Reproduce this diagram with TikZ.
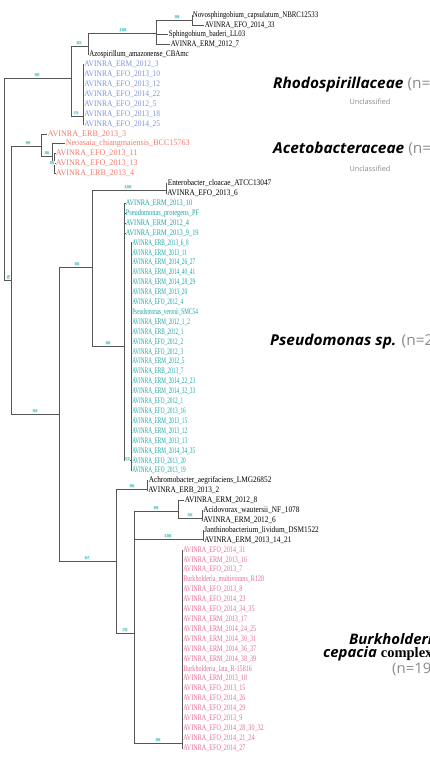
\documentclass[tikz,border=0pt]{standalone}
\usepackage{fontspec}
\setmainfont{Liberation Serif}
\newfontfamily\labfont[FakeStretch=1.03]{Open Sans}
\newfontfamily\uncfont{Open Sans}
\newfontfamily\fblack[FakeStretch=0.81]{Liberation Serif}
\newfontfamily\fblackw[FakeStretch=0.86]{Liberation Serif}
\newfontfamily\fblue[FakeStretch=0.88]{Liberation Serif}
\newfontfamily\fsalmon[FakeStretch=0.95]{Liberation Serif}
\newfontfamily\fteal[FakeStretch=0.62]{Liberation Serif}
\newfontfamily\ftealw[FakeStretch=0.75]{Liberation Serif}
\newfontfamily\fpink[FakeStretch=0.72]{Liberation Serif}
\definecolor{treeline}{HTML}{555555}
\definecolor{rhodo}{HTML}{7C95D8}
\definecolor{aceto}{HTML}{F07A6A}
\definecolor{pseudo}{HTML}{1FA3A3}
\definecolor{burk}{HTML}{E36D96}
\definecolor{boot}{HTML}{2BB5B0}
\definecolor{ncol}{HTML}{8A8A8A}
\begin{document}
\begin{tikzpicture}[x=1pt,y=-1pt,
  leaf/.style={anchor=west,inner sep=0.6pt,font=\fblack\fontsize{8.5}{9}\selectfont},
  wleaf/.style={leaf,font=\fblackw\fontsize{8.5}{9}\selectfont},
  rleaf/.style={leaf,text=rhodo,font=\fblue\fontsize{8.5}{9}\selectfont},
  aleaf/.style={leaf,text=aceto,font=\fsalmon\fontsize{8.5}{9}\selectfont},
  pleaf/.style={leaf,text=pseudo,font=\fteal\fontsize{8.5}{9}\selectfont},
  pwleaf/.style={leaf,text=pseudo,font=\ftealw\fontsize{8.5}{9}\selectfont},
  bleaf/.style={leaf,text=burk,font=\fpink\fontsize{8.5}{9}\selectfont},
  br/.style={draw=treeline,line width=0.7pt},
  bs/.style={font=\sffamily\bfseries\fontsize{4}{4}\selectfont,text=boot,fill=boot!12,inner sep=0.4pt,anchor=south,yshift=0.6pt},
  big/.style={anchor=west,inner sep=0pt,font=\labfont\bfseries\itshape\fontsize{15}{16}\selectfont},
  bigb/.style={anchor=west,inner sep=0pt,font=\labfont\bfseries\itshape\fontsize{14.5}{15}\selectfont},
  uncl/.style={inner sep=0pt,font=\uncfont\fontsize{7.3}{8}\selectfont,text=ncol}]
\useasboundingbox (0,0) rectangle (429,758);
\clip (0,0) rectangle (429,758);
% ---------------- internal nodes
\coordinate (root) at (4,78);
\coordinate (nRh) at (71,78);
\coordinate (nA) at (88,46);
\coordinate (n100) at (156,33);
\coordinate (n99) at (192,20);
\coordinate (nB) at (83,116);
\coordinate (n11) at (11,280);
\coordinate (nAc) at (41,146);
\coordinate (nAc2) at (52,156);
\coordinate (nAc3) at (54.5,164);
\coordinate (nP) at (59,414);
\coordinate (nPs) at (92,267);
\coordinate (nEnt) at (166,190);
\coordinate (nPse) at (124.5,346);
\coordinate (nPse2) at (131,460);
\coordinate (nBeta) at (116,561);
\coordinate (nAch) at (147,489);
\coordinate (n78) at (134,633);
\coordinate (n99b) at (178,511);
\coordinate (nAci) at (202,518);
\coordinate (nJan) at (203,539);
\coordinate (nBur) at (182,743);
% ---------------- leaves
\node[leaf] (l1) at (192,{15+9.905*0}) {Novosphingobium\_capsulatum\_NBRC12533};
\node[leaf] (l2) at (204,{15+9.905*1}) {AVINRA\_EFO\_2014\_33};
\node[leaf] (l3) at (168,{15+9.905*2}) {Sphingobium\_baderi\_LL03};
\node[leaf] (l4) at (170,{15+9.905*3}) {AVINRA\_ERM\_2012\_7};
\node[leaf] (l5) at (88.5,{15+9.905*4}) {Azospirillum\_amazonense\_CBAmc};
\foreach \i/\t in {6/AVINRA\_ERM\_2012\_3,7/AVINRA\_EFO\_2013\_10,8/AVINRA\_EFO\_2013\_12,
  9/AVINRA\_EFO\_2014\_22,10/AVINRA\_EFO\_2012\_5,11/AVINRA\_EFO\_2013\_18,12/AVINRA\_EFO\_2014\_25}
  \node[rleaf] (l\i) at (83.5,{15+9.905*(\i-1)}) {\t};
\node[aleaf] (l13) at (47,{15+9.905*12}) {AVINRA\_ERB\_2013\_3};
\node[aleaf] (l14) at (65,{15+9.905*13}) {Neoasaia\_chiangmaiensis\_BCC15763};
\foreach \i/\t in {15/AVINRA\_EFO\_2013\_11,16/AVINRA\_EFO\_2013\_13,17/AVINRA\_ERB\_2013\_4}
  \node[aleaf] (l\i) at (55,{15+9.905*(\i-1)}) {\t};
\node[wleaf] (l18) at (167,{15+9.905*17}) {Enterobacter\_cloacae\_ATCC13047};
\node[wleaf] (l19) at (166.5,{15+9.905*18}) {AVINRA\_EFO\_2013\_6};
\foreach \i/\t in {20/AVINRA\_ERM\_2013\_10,21/Pseudomonas\_protegens\_PF,22/AVINRA\_ERM\_2012\_4,23/AVINRA\_ERM\_2013\_9\_19}
  \node[pwleaf] (l\i) at (125,{15+9.905*(\i-1)}) {\t};
\foreach \i/\t in {24/AVINRA\_ERB\_2013\_6\_8,25/AVINRA\_ERM\_2013\_11,26/AVINRA\_ERM\_2014\_26\_27,
  27/AVINRA\_ERM\_2014\_40\_41,28/AVINRA\_ERM\_2014\_28\_29,29/AVINRA\_ERM\_2013\_20,30/AVINRA\_EFO\_2012\_4,
  31/Pseudomonas\_veronii\_SMC54,32/AVINRA\_ERM\_2012\_1\_2,33/AVINRA\_ERB\_2012\_1,34/AVINRA\_EFO\_2012\_2,
  35/AVINRA\_EFO\_2012\_3,36/AVINRA\_ERM\_2012\_5,37/AVINRA\_ERB\_2013\_7,38/AVINRA\_ERM\_2014\_22\_23,
  39/AVINRA\_ERM\_2014\_32\_33,40/AVINRA\_EFO\_2012\_1,41/AVINRA\_EFO\_2013\_16,42/AVINRA\_ERM\_2013\_15,
  43/AVINRA\_ERM\_2013\_12,44/AVINRA\_ERM\_2013\_13,45/AVINRA\_ERM\_2014\_34\_35,46/AVINRA\_EFO\_2013\_20,
  47/AVINRA\_EFO\_2013\_19}
  \node[pleaf] (l\i) at (131.5,{15+9.905*(\i-1)}) {\t};
\node[wleaf] (l48) at (148,{15+9.905*47}) {Achromobacter\_aegrifaciens\_LMG26852};
\node[wleaf] (l49) at (147.5,{15+9.905*48}) {AVINRA\_ERB\_2013\_2};
\node[wleaf] (l50) at (184,{15+9.905*49}) {AVINRA\_ERM\_2012\_8};
\node[wleaf] (l51) at (202.5,{15+9.905*50}) {Acidovorax\_wautersii\_NF\_1078};
\node[wleaf] (l52) at (202.5,{15+9.905*51}) {AVINRA\_ERM\_2012\_6};
\node[wleaf] (l53) at (203.5,{15+9.905*52}) {Janthinobacterium\_lividum\_DSM1522};
\node[wleaf] (l54) at (203.5,{15+9.905*53}) {AVINRA\_ERM\_2013\_14\_21};
\foreach \i/\t in {55/AVINRA\_EFO\_2014\_31,56/AVINRA\_ERM\_2013\_16,57/AVINRA\_EFO\_2013\_7,
  58/Burkholderia\_multivorans\_R128,59/AVINRA\_EFO\_2013\_8,60/AVINRA\_EFO\_2014\_23,
  61/AVINRA\_EFO\_2014\_34\_35,62/AVINRA\_ERM\_2013\_17,63/AVINRA\_ERM\_2014\_24\_25,
  64/AVINRA\_ERM\_2014\_30\_31,65/AVINRA\_ERM\_2014\_36\_37,66/AVINRA\_ERM\_2014\_38\_39,
  67/Burkholderia\_lata\_R-15816,68/AVINRA\_ERM\_2013\_18,69/AVINRA\_EFO\_2013\_15,
  70/AVINRA\_EFO\_2014\_26,71/AVINRA\_EFO\_2014\_29,72/AVINRA\_EFO\_2013\_9,
  73/AVINRA\_EFO\_2014\_28\_30\_32,74/AVINRA\_EFO\_2014\_21\_24,75/AVINRA\_EFO\_2014\_27}
  \node[bleaf] (l\i) at (182.5,{15+9.905*(\i-1)}) {\t};
% ---------------- branches
\draw[br] (root) |- (nRh);
\draw[br] (root) |- (n11);
\draw[br] (nRh) |- (nA);
\draw[br] (nRh) |- (nB);
\draw[br] (nA) |- (n100);
\draw[br] (nA) |- (l5.west);
\draw[br] (n100) |- (n99);
\draw[br] (n100) |- (l3.west);
\draw[br] (n100) |- (l4.west);
\draw[br] (n99) |- (l1.west);
\draw[br] (n99) |- (l2.west);
\foreach \i in {6,...,12} \draw[br] (nB) |- (l\i.west);
\draw[br] (n11) |- (nAc);
\draw[br] (n11) |- (nP);
\draw[br] (nAc) |- (l13.west);
\draw[br] (nAc) |- (nAc2);
\draw[br] (nAc2) |- (l14.west);
\draw[br] (nAc2) |- (nAc3);
\foreach \i in {15,16,17} \draw[br] (nAc3) |- (l\i.west);
\draw[br] (nP) |- (nPs);
\draw[br] (nP) |- (nBeta);
\draw[br] (nPs) |- (nEnt);
\draw[br] (nPs) |- (nPse);
\draw[br] (nEnt) |- (l18.west);
\draw[br] (nEnt) |- (l19.west);
\foreach \i in {20,...,23} \draw[br] (nPse) |- (l\i.west);
\draw[br] (nPse) |- (nPse2);
\foreach \i in {24,...,47} \draw[br] (nPse2) |- (l\i.west);
\draw[br] (nBeta) |- (nAch);
\draw[br] (nBeta) |- (n78);
\draw[br] (nAch) |- (l48.west);
\draw[br] (nAch) |- (l49.west);
\draw[br] (n78) |- (n99b);
\draw[br] (n78) |- (nJan);
\draw[br] (n78) |- (nBur);
\draw[br] (n99b) |- (l50.west);
\draw[br] (n99b) |- (nAci);
\draw[br] (nAci) |- (l51.west);
\draw[br] (nAci) |- (l52.west);
\draw[br] (nJan) |- (l53.west);
\draw[br] (nJan) |- (l54.west);
\foreach \i in {55,...,75} \draw[br] (nBur) |- (l\i.west);
% ---------------- bootstrap values
\node[bs] (b1) at (37,78) {99};
\node[bs] (b2) at (79,46) {82};
\node[bs] (b3) at (123,33) {100};
\node[bs] (b4) at (177,20) {99};
\node[bs] (b5) at (76,116) {75};
\node[bs,rotate=90,anchor=north] (b6) at (6.5,278) {76};
\node[bs] (b7) at (28,146) {99};
\node[bs] (b8) at (47,156) {86};
\node[bs] (b9) at (52,166) {99};
\node[bs] (b10) at (35,414) {94};
\node[bs] (b11) at (77,267) {86};
\node[bs] (b12) at (128,190) {100};
\node[bs] (b13) at (108,346) {86};
\node[bs] (b14) at (127.5,462) {52};
\node[bs] (b15) at (87,561) {67};
\node[bs] (b16) at (132,489) {96};
\node[bs] (b17) at (125,633) {78};
\node[bs] (b18) at (156,511) {99};
\node[bs] (b19) at (190,518) {56};
\node[bs] (b20) at (168,539) {100};
\node[bs] (b21) at (158,743) {98};
% ---------------- clade labels
\node[big] (c1) at (273,85) {Rhodospirillaceae \textnormal{\textcolor{ncol}{\labfont(n=7)}}};
\node[uncl] (u1) at (370,102) {Unclassified};
\node[big] (c2) at (273,149) {Acetobacteraceae \textnormal{\textcolor{ncol}{\labfont(n=4)}}};
\node[uncl] (u2) at (370,169) {Unclassified};
\node[big] (c3) at (270,342) {Pseudomonas sp. \textnormal{\textcolor{ncol}{\labfont(n=26)}}};
\node[bigb] (c4) at (349,639) {Burkholderia};
\node[bigb] (c5) at (323,654) {cepacia \textnormal{\bfseries complex}};
\node[bigb] (c6) at (392,669) {\textnormal{\textcolor{ncol}{\labfont(n=19)}}};
\end{tikzpicture}
\end{document}
